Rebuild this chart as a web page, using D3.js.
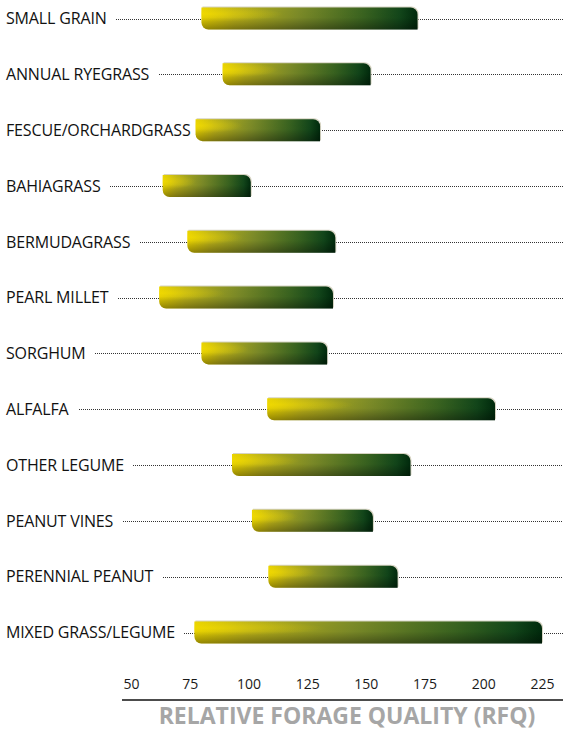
<!DOCTYPE html>
<html>
<head>
<meta charset="utf-8">
<script src="https://cdn.jsdelivr.net/npm/d3@7/dist/d3.min.js"></script>
<style>
  html, body { margin: 0; padding: 0; background: #fff; }
  svg { display: block; font-family: "Open Sans", "Noto Sans", sans-serif; }
</style>
</head>
<body>
<svg id="chart" width="563" height="730"></svg>
<script>
// Forage types and their relative forage quality (RFQ) ranges
const forages = [
  "SMALL GRAIN", "ANNUAL RYEGRASS", "FESCUE/ORCHARDGRASS", "BAHIAGRASS",
  "BERMUDAGRASS", "PEARL MILLET", "SORGHUM", "ALFALFA", "OTHER LEGUME",
  "PEANUT VINES", "PERENNIAL PEANUT", "MIXED GRASS/LEGUME"
];
const rfqLow  = [80, 89, 77.5, 63.5, 74, 62, 80, 108, 93, 101.5, 108.5, 77];
const rfqHigh = [172, 152, 130.5, 101, 137, 136, 133.5, 205, 169, 153, 163.5, 225];
const tickValues = [50, 75, 100, 125, 150, 175, 200, 225];
const axisTitle = "RELATIVE FORAGE QUALITY (RFQ)";

const rows = forages.map((name, i) => ({ name, low: rfqLow[i], high: rfqHigh[i] }));

const W = 563, H = 730;
const svg = d3.select("#chart");

const x = d3.scaleLinear().domain([50, 225]).range([131, 542]);
const y = d3.scalePoint().domain(forages).range([18.5, 632.5]);
const barH = 22, r = 7;

// Gradients: horizontal yellow-to-green, plus a darker bottom shade
const defs = svg.append("defs");
const hg = defs.append("linearGradient").attr("id", "hgrad")
  .attr("x1", 0).attr("x2", 1).attr("y1", 0).attr("y2", 0);
[[0, "#e8d200"], [0.15, "#bdb319"], [0.45, "#7d8c28"], [0.75, "#3a6420"], [0.92, "#12461a"], [1, "#002a0c"]]
  .forEach(([o, c]) => hg.append("stop").attr("offset", o).attr("stop-color", c));
const vg = defs.append("linearGradient").attr("id", "vgrad")
  .attr("x1", 0).attr("x2", 0).attr("y1", 0).attr("y2", 1);
[[0, "#000", 0], [0.45, "#000", 0.03], [1, "#000", 0.36]]
  .forEach(([o, c, a]) => vg.append("stop").attr("offset", o).attr("stop-color", c).attr("stop-opacity", a));
const rg = defs.append("radialGradient").attr("id", "rgrad")
  .attr("cx", 0.03).attr("cy", 0.3).attr("r", 0.35);
rg.append("stop").attr("offset", 0).attr("stop-color", "#ffe600").attr("stop-opacity", 0.55);
rg.append("stop").attr("offset", 1).attr("stop-color", "#ffe600").attr("stop-opacity", 0);

// Leaf-shaped bar: rounded top-right and bottom-left corners
function leaf(x0, x1, yc) {
  const t = yc - barH / 2, b = yc + barH / 2;
  const p = d3.path();
  p.moveTo(x0, t);
  p.lineTo(x1 - r, t);
  p.arcTo(x1, t, x1, t + r, r);
  p.lineTo(x1, b);
  p.lineTo(x0 + r, b);
  p.arcTo(x0, b, x0, b - r, r);
  p.closePath();
  return p.toString();
}

const g = svg.append("g");
const row = g.selectAll("g.row").data(rows).join("g").attr("class", "row");

// Category labels
row.append("text")
  .attr("class", "lbl")
  .attr("x", 6)
  .attr("y", d => y(d.name) + 5.8)
  .attr("font-size", 16)
  .attr("fill", "#111")
  .attr("letter-spacing", -0.15)
  .text(d => d.name);

// Dotted leader lines from label to right edge
row.each(function(d) {
  const sel = d3.select(this);
  const bb = sel.select("text.lbl").node().getBBox();
  const ly = Math.round(y(d.name)) + 0.5;
  sel.insert("line", "text")
    .attr("x1", Math.round(bb.x + bb.width + 9))
    .attr("x2", W)
    .attr("y1", ly)
    .attr("y2", ly)
    .attr("stroke", "#333")
    .attr("stroke-width", 1)
    .attr("stroke-dasharray", "1,1");
});

// Bars
row.append("path")
  .attr("d", d => leaf(x(d.low) + 1, x(d.high) + 1, y(d.name) - 1))
  .attr("fill", "#d6d3c2");
row.append("path")
  .attr("d", d => leaf(x(d.low), x(d.high), y(d.name)))
  .attr("fill", "url(#hgrad)");
row.append("path")
  .attr("d", d => leaf(x(d.low), x(d.high), y(d.name)))
  .attr("fill", "url(#rgrad)");
row.append("path")
  .attr("d", d => leaf(x(d.low), x(d.high), y(d.name)))
  .attr("fill", "url(#vgrad)");

// Axis
const axisY = 700;
const axis = svg.append("g").attr("transform", `translate(0,${axisY})`)
  .call(d3.axisTop(x).tickValues(tickValues).tickSize(0).tickPadding(0));
axis.select(".domain").remove();
axis.selectAll("text")
  .attr("y", -11)
  .attr("font-family", "\"Open Sans\", sans-serif")
  .attr("font-size", 14)
  .attr("fill", "#1a1a1a");
svg.append("line")
  .attr("x1", 122).attr("x2", W)
  .attr("y1", axisY).attr("y2", axisY)
  .attr("stroke", "#111").attr("stroke-width", 1.5);

svg.append("text")
  .attr("x", 347)
  .attr("y", 724)
  .attr("text-anchor", "middle")
  .attr("font-size", 23)
  .attr("font-weight", 700)
  .attr("fill", "#a6a6a6")
  .text(axisTitle);
</script>
</body>
</html>
